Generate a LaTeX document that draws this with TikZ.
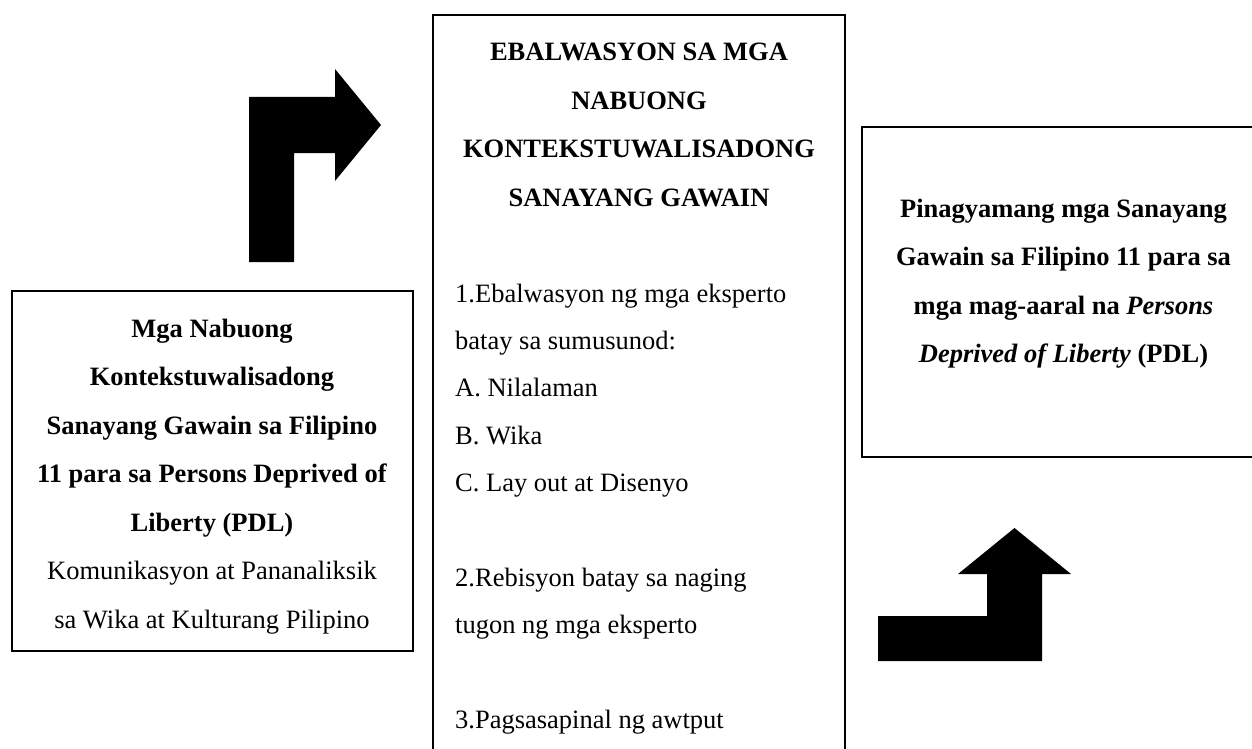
\documentclass[tikz,border=0pt]{standalone}
\usepackage{fontspec}
\setmainfont{Liberation Serif}
\begin{document}
\begin{tikzpicture}[x=1pt,y=-1pt,
  boxline/.style={line width=1.6pt, line join=miter},
  bigarrow/.style={fill=black, draw=none},
  txt/.style={inner sep=0pt, font=\fontsize{26.5}{48.5}\selectfont}]
\useasboundingbox[fill=white] (0,0) rectangle (1252,749);
% boxes
\draw[boxline] (12,291) rectangle (412.7,650.7);
\draw[boxline] (433,752) -- (433,15) -- (845,15) -- (845,752);
\draw[boxline] (1254,127) -- (862,127) -- (862,457) -- (1254,457);
% left text
\node[txt, anchor=base, text width=395pt, align=flush center] (lefttext) at (212,337)
  {\textbf{Mga Nabuong}\\
   \textbf{Kontekstuwalisadong}\\
   \textbf{Sanayang Gawain sa Filipino}\\
   \textbf{11 para sa Persons Deprived of}\\
   \textbf{Liberty (PDL)}\\
   Komunikasyon at Pananaliksik\\
   sa Wika at Kulturang Pilipino};
% middle heading
\node[txt, anchor=base, text width=405pt, align=flush center] (midhead) at (639,60.7)
  {\textbf{EBALWASYON SA MGA}\\
   \textbf{NABUONG}\\
   \textbf{KONTEKSTUWALISADONG}\\
   \textbf{SANAYANG GAWAIN}};
% middle body
\node[txt, font=\fontsize{26.5}{47.4}\selectfont, anchor=base west, text width=385pt, align=flush left] (midbody) at (455,302)
  {1.Ebalwasyon ng mga eksperto\\
   batay sa sumusunod:\\
   A. Nilalaman\\
   B. Wika\\
   C. Lay out at Disenyo\\[47.4pt]
   2.Rebisyon batay sa naging\\
   tugon ng mga eksperto\\[47.4pt]
   3.Pagsasapinal ng awtput};
% right text
\node[txt, anchor=base, text width=385pt, align=flush center] (righttext) at (1063.5,217)
  {\textbf{Pinagyamang mga Sanayang}\\
   \textbf{Gawain sa Filipino 11 para sa}\\
   \textbf{mga mag-aaral na \textit{Persons}}\\
   \textbf{\textit{Deprived of Liberty} (PDL)}};
% arrows
\fill[bigarrow] (249,262) -- (249,97) -- (335,97) -- (335,69) -- (381,125) -- (335,181) -- (335,153) -- (294,153) -- (294,262) -- cycle;
\fill[bigarrow] (878,661) -- (878,616) -- (987,616) -- (987,574) -- (958,574) -- (1014.5,528) -- (1071,574) -- (1042,574) -- (1042,661) -- cycle;
\end{tikzpicture}
\end{document}
